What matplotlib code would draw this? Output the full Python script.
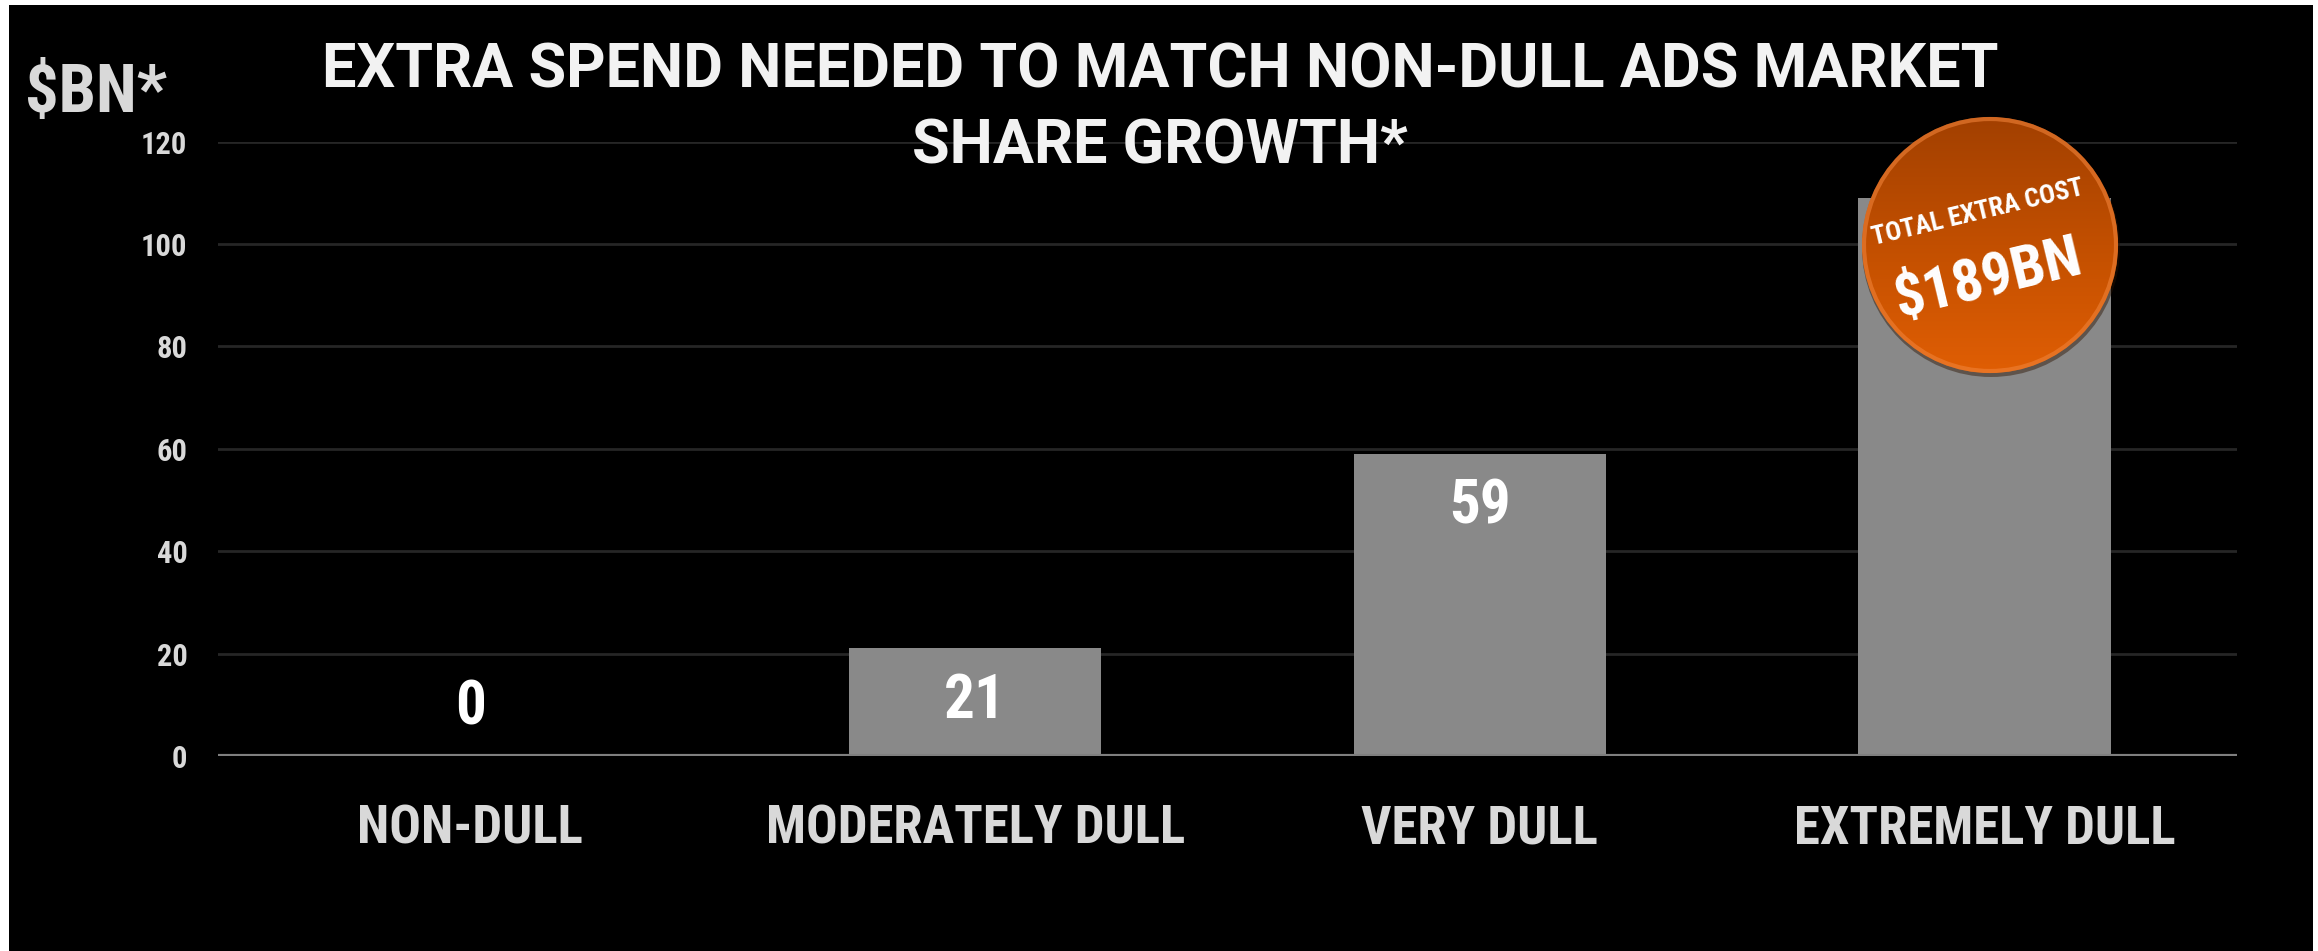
import matplotlib
matplotlib.use('Agg')
import matplotlib.pyplot as plt
import numpy as np
from matplotlib.colors import LinearSegmentedColormap
from matplotlib.patches import Circle, Rectangle

categories = ['NON-DULL', 'MODERATELY DULL', 'VERY DULL', 'EXTREMELY DULL']
extra_spend = [0, 21, 59, 109]
y_ticks = [0, 20, 40, 60, 80, 100, 120]
title_lines = ['EXTRA SPEND NEEDED TO MATCH NON-DULL ADS MARKET', 'SHARE GROWTH*']
unit_label = '$BN*'
badge_lines = ['TOTAL EXTRA COST', '$189BN']

W, H = 2318, 951
FONT = ['Roboto Condensed', 'Lato', 'DejaVu Sans']
TITLE_FONT = ['Roboto', 'Roboto Condensed', 'DejaVu Sans']
plt.rcParams['font.family'] = FONT
plt.rcParams['font.weight'] = 'bold'

fig = plt.figure(figsize=(W / 100, H / 100), dpi=100, facecolor='white')
# black slide area with a thin white margin left/top/right
fig.add_artist(Rectangle((9 / W, 0), (2313 - 9) / W, 946 / H, transform=fig.transFigure,
                         facecolor='black', edgecolor='none', zorder=-10))

ax = fig.add_axes([218 / W, 1 - 756 / H, (2237 - 218) / W, (756 - 141.7) / H])
ax.set_facecolor('none')
x = np.arange(len(categories))
ax.bar(x, extra_spend, width=0.5, color='#898989', zorder=2)
ax.set_xlim(-0.5, len(categories) - 0.5)
ax.set_ylim(0, 120)
ax.set_yticks(y_ticks)
ax.set_yticklabels([str(t) for t in y_ticks], fontsize=22, color='#d9d9d9', fontweight='bold')
ax.set_xticks(x)
ax.set_xticklabels(categories, fontsize=38, color='#d9d9d9', fontweight='bold')
ax.tick_params(axis='y', length=0, pad=22)
ax.tick_params(axis='x', length=0, pad=34)
ax.grid(axis='y', color='#262626', linewidth=2, zorder=0)
ax.axhline(0, color='#7f7f7f', linewidth=3, zorder=3)
for s in ax.spines.values():
    s.set_visible(False)

# value labels just inside the bar top, above the axis for an empty bar
for xi, v in zip(x, extra_spend):
    off = -38 if v > 0 else 35
    ax.annotate(str(v), (xi, v), xytext=(0, off), textcoords='offset points',
                ha='center', va='center', fontsize=44, color='white', fontweight='bold', zorder=4)

fig.text(1160 / W, 1 - 87 / H, title_lines[0], ha='center', va='baseline',
         fontsize=44, color='#f2f2f2', fontweight='bold', family=TITLE_FONT)
fig.text(1160 / W, 1 - 163 / H, title_lines[1], ha='center', va='baseline',
         fontsize=44, color='#f2f2f2', fontweight='bold', family=TITLE_FONT)
fig.text(25 / W, 1 - 112 / H, unit_label, ha='left', va='baseline',
         fontsize=48, color='#d9d9d9', fontweight='bold')

# orange button on top of the last bar
bx = fig.add_axes([0, 0, 1, 1], zorder=5)
bx.patch.set_alpha(0)
cx, cy, r = 1990, 245, 128
shadow = Circle((cx + 1, cy + 3), r + 1, facecolor='#2a1200', edgecolor='none', alpha=0.45, zorder=1)
bx.add_patch(shadow)
cmap = LinearSegmentedColormap.from_list('badge', ['#a24000', '#c24f00', '#e05e04'])
grad = np.linspace(0, 1, 256)[:, None]
im = bx.imshow(grad, cmap=cmap, extent=(cx - r, cx + r, cy + r, cy - r), origin='upper',
               aspect='auto', zorder=2)
disc = Circle((cx, cy), r, facecolor='none', edgecolor='none')
bx.add_patch(disc)
im.set_clip_path(disc)
bx.add_patch(Circle((cx, cy), r - 2, facecolor='none', edgecolor='#f08238', linewidth=3,
                    alpha=0.6, zorder=3))
bx.text(1978, 213, badge_lines[0], rotation=13.5, rotation_mode='anchor', ha='center', va='center',
        fontsize=19, color='white', fontweight='bold', zorder=4)
bx.text(1988, 279, badge_lines[1], rotation=13.5, rotation_mode='anchor', ha='center', va='center',
        fontsize=43, color='white', fontweight='bold', zorder=4)
bx.set_xlim(0, W)
bx.set_ylim(H, 0)
bx.axis('off')

fig.savefig('out.png', dpi=100, facecolor=fig.get_facecolor())
